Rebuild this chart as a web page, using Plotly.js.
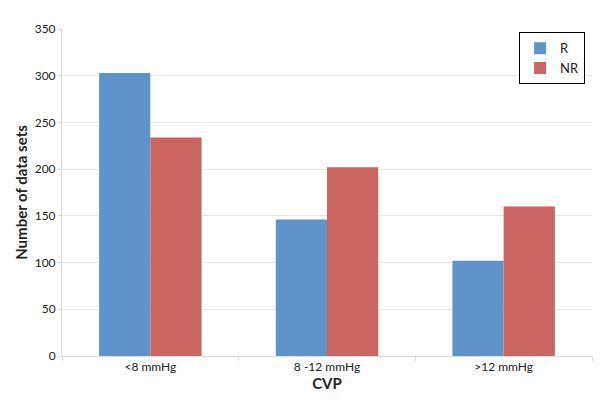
<!DOCTYPE html>
<html>
<head>
<meta charset="utf-8">
<script src="https://cdn.plot.ly/plotly-3.0.1.min.js"></script>
<style>html,body{margin:0;padding:0;background:#fff;}#chart{width:611px;height:404px;}</style>
</head>
<body>
<div id="chart"></div>
<script>
var categories = ["<8 mmHg", "8 -12 mmHg", ">12 mmHg"];
var seriesR = [303, 146, 102];
var seriesNR = [234, 202, 160];
var yTicks = [0, 50, 100, 150, 200, 250, 300, 350];

var font = "Lato, 'Liberation Sans', sans-serif";
var data = [
  {type: "bar", name: "R", x: categories, y: seriesR, marker: {color: "#5e94c9"}},
  {type: "bar", name: "NR", x: categories, y: seriesNR, marker: {color: "#cb6561"}}
];
var layout = {
  width: 611, height: 404,
  margin: {l: 62, r: 19, t: 29, b: 48},
  paper_bgcolor: "#fff", plot_bgcolor: "#fff",
  barmode: "group", bargap: 0.42, bargroupgap: 0,
  font: {family: font, size: 12, color: "#222"},
  showlegend: true,
  legend: {x: 0.987, y: 0.99, xanchor: "right", yanchor: "top",
           bordercolor: "#000", borderwidth: 1, bgcolor: "#fff",
           font: {family: font, size: 13, color: "#222"},
           itemwidth: 30, tracegroupgap: 0},
  xaxis: {
    type: "category",
    showline: true, linecolor: "#dcdcdc", linewidth: 1,
    ticks: "outside", tickson: "boundaries", ticklen: 4, tickcolor: "#dcdcdc",
    showgrid: false,
    tickfont: {family: font, size: 12, color: "#222"},
    title: {text: "<b>CVP</b>", font: {family: font, size: 15, color: "#222"}, standoff: 4}
  },
  yaxis: {
    range: [0, 350], tickvals: yTicks, ticktext: yTicks.map(String),
    showgrid: true, gridcolor: "#e8e8e8", gridwidth: 1,
    showline: true, linecolor: "#dcdcdc", zeroline: false,
    ticks: "outside", ticklen: 3, tickcolor: "#dcdcdc",
    tickfont: {family: font, size: 12, color: "#222"},
    title: {text: "<b>Number of data sets</b>", font: {family: font, size: 15, color: "#222"}, standoff: 3}
  }
};
Plotly.newPlot("chart", data, layout, {displayModeBar: false, staticPlot: true});
</script>
</body>
</html>
